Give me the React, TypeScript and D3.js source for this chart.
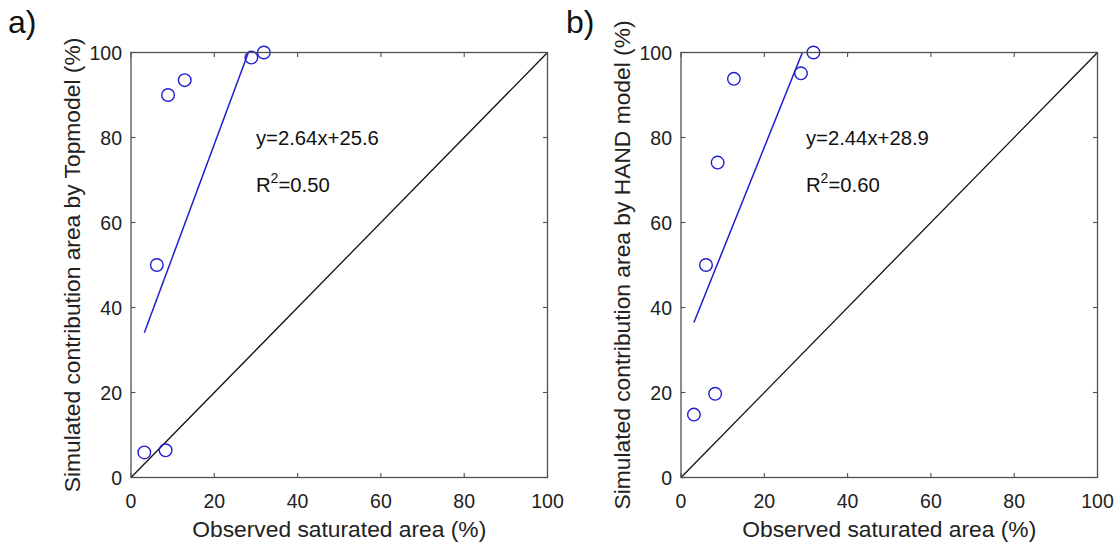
import React from "react";
import * as d3 from "d3";

// Panel a: Topmodel vs observed
const obsA = [3.2, 8.3, 6.2, 8.9, 12.9, 28.9, 31.9];
const simA = [5.9, 6.4, 50.0, 90.0, 93.5, 98.8, 100];
// Panel b: HAND model vs observed
const obsB = [3.1, 8.2, 6.0, 8.8, 12.7, 28.8, 31.8];
const simB = [14.8, 19.7, 50.0, 74.1, 93.8, 95.1, 100];

const panelTags = ["a)", "b)"];
const yLabels = [
  "Simulated contribution area by Topmodel (%)",
  "Simulated contribution area by HAND model (%)",
];
const xLabel = "Observed saturated area (%)";
const slopes = [2.64, 2.44];
const intercepts = [25.6, 28.9];
const r2Labels = ["0.50", "0.60"];
const ticks = [0, 20, 40, 60, 80, 100];

const FONT = "'Liberation Sans', Arial, Helvetica, sans-serif";
const BLUE = "#1f1fd0";
const AXIS = "#505050";
const TEXT = "#222";

function Panel({ idx, left, tagX, obs, sim }) {
  const top = 52.5;
  const w = 416.5;
  const h = 425;
  const x = d3.scaleLinear().domain([0, 100]).range([0, w]);
  const y = d3.scaleLinear().domain([0, 100]).range([h, 0]);

  const x0 = d3.min(obs);
  const x1 = d3.max(obs);
  const fit = (v) => slopes[idx] * v + intercepts[idx];
  const line = d3.line().x((d) => x(d[0])).y((d) => y(d[1]));
  const clipId = `clip-${idx}`;

  return (
    <g transform={`translate(${left},${top})`}>
      <defs>
        <clipPath id={clipId}>
          <rect x={0} y={0} width={w} height={h} />
        </clipPath>
      </defs>

      {/* 1:1 line */}
      <path d={line([[0, 0], [100, 100]])} stroke="#111" strokeWidth={1.3} fill="none" />

      {/* regression line */}
      <path
        d={line([[x0, fit(x0)], [x1, fit(x1)]])}
        stroke={BLUE}
        strokeWidth={1.5}
        fill="none"
        clipPath={`url(#${clipId})`}
      />

      {obs.map((v, i) => (
        <circle key={i} cx={x(v)} cy={y(sim[i])} r={6.3} fill="none" stroke={BLUE} strokeWidth={1.4} />
      ))}

      {/* box */}
      <rect x={0} y={0} width={w} height={h} fill="none" stroke={AXIS} strokeWidth={1.3} />

      {ticks.map((t) => (
        <g key={`t${t}`} stroke={AXIS} strokeWidth={1.1}>
          <line x1={x(t)} x2={x(t)} y1={h} y2={h - 4.5} />
          <line x1={x(t)} x2={x(t)} y1={0} y2={4.5} />
          <line x1={0} x2={4.5} y1={y(t)} y2={y(t)} />
          <line x1={w} x2={w - 4.5} y1={y(t)} y2={y(t)} />
        </g>
      ))}

      <g fontFamily={FONT} fontSize={19.5} fill={TEXT}>
        {ticks.map((t) => (
          <text key={`xl${t}`} x={x(t)} y={h + 23.5} textAnchor="middle" dominantBaseline="central">
            {t}
          </text>
        ))}
        {ticks.map((t) => (
          <text key={`yl${t}`} x={-9} y={y(t)} textAnchor="end" dominantBaseline="central">
            {t}
          </text>
        ))}
      </g>

      <text
        x={w / 2}
        y={h + 51}
        textAnchor="middle"
        dominantBaseline="central"
        fontFamily={FONT}
        fontSize={22.8}
        fill={TEXT}
      >
        {xLabel}
      </text>

      <text
        transform={`translate(-59.5,${h / 2}) rotate(-90)`}
        textAnchor="middle"
        dominantBaseline="central"
        fontFamily={FONT}
        fontSize={22.8}
        fill={TEXT}
      >
        {yLabels[idx]}
      </text>

      <g fontFamily={FONT} fontSize={20.3} fill="#111">
        <text x={x(30)} y={y(78.3)}>
          {`y=${slopes[idx]}x+${intercepts[idx]}`}
        </text>
        <text x={x(30)} y={y(67.2)}>
          R<tspan fontSize={14} dy={-9}>2</tspan>
          <tspan dy={9}>{`=${r2Labels[idx]}`}</tspan>
        </text>
      </g>

      <text x={tagX - left} y={-20} fontFamily={FONT} fontSize={32} fill="#111">
        {panelTags[idx]}
      </text>
    </g>
  );
}

export default function App() {
  return (
    <svg
      width={1118}
      height={548}
      style={{ position: "absolute", left: 0, top: 0, background: "#fff" }}
    >
      <rect width={1118} height={548} fill="#fff" />
      <Panel idx={0} left={131} tagX={8} obs={obsA} sim={simA} />
      <Panel idx={1} left={681} tagX={566} obs={obsB} sim={simB} />
    </svg>
  );
}
